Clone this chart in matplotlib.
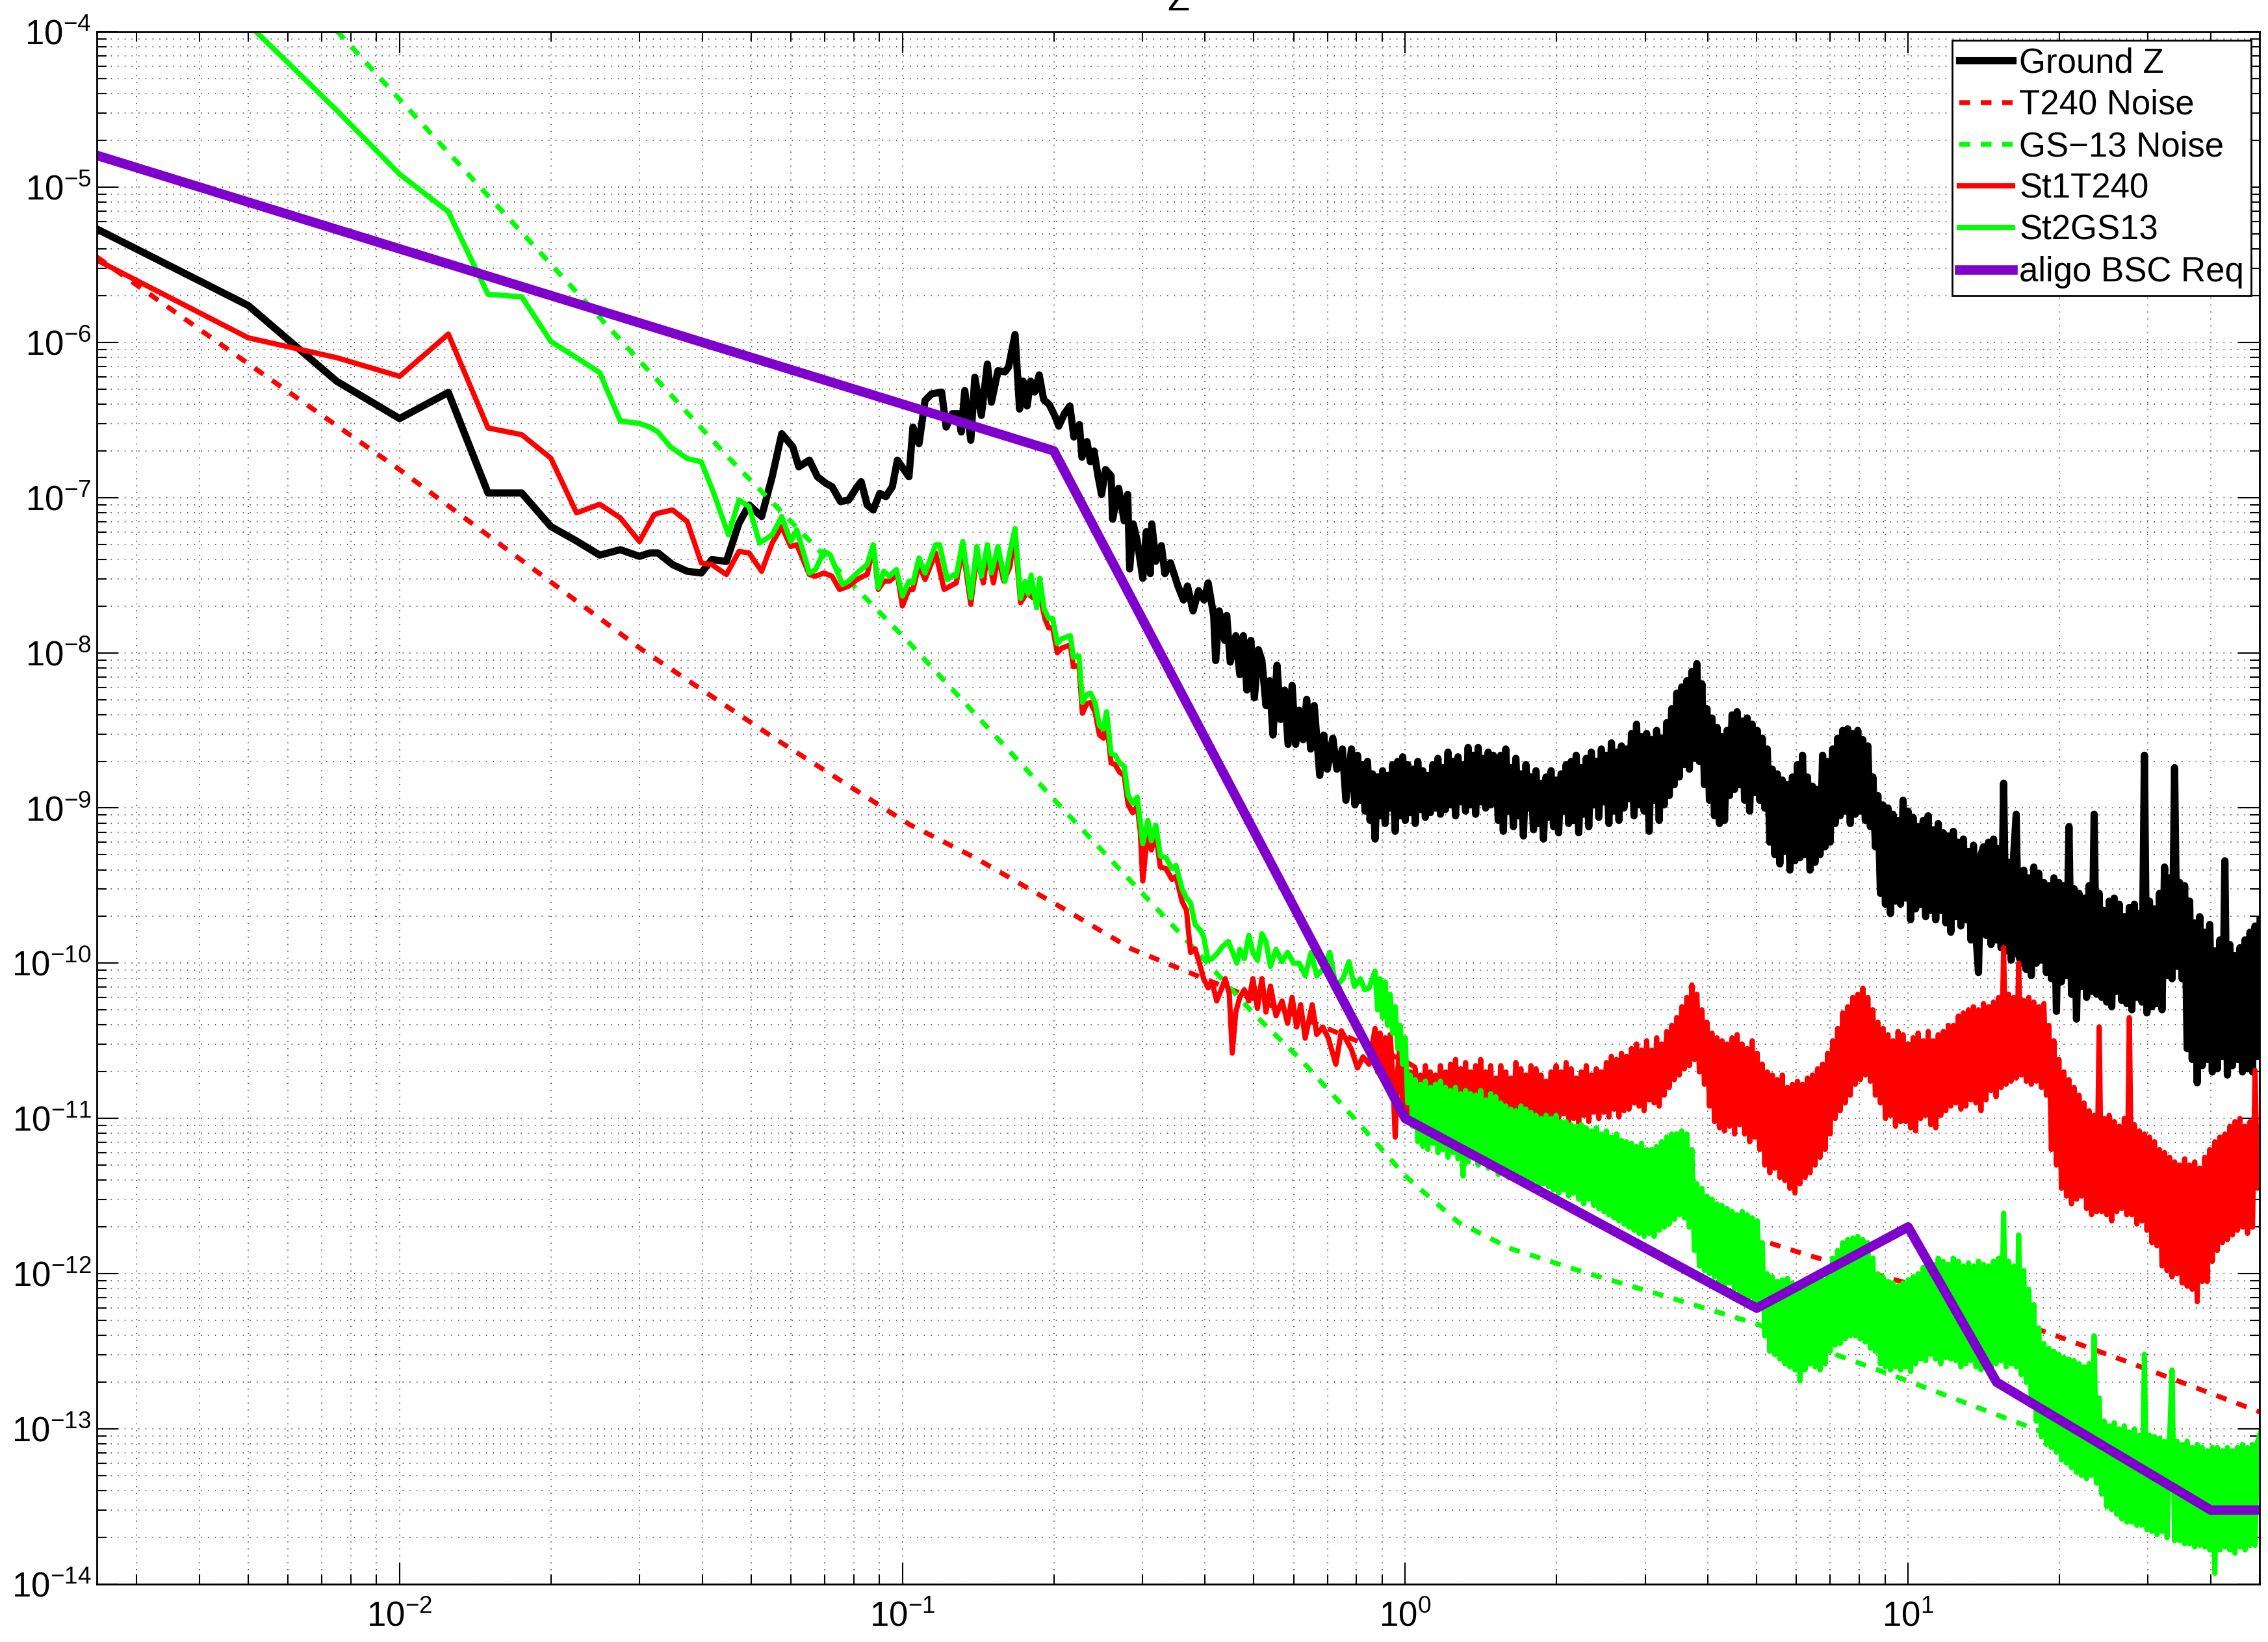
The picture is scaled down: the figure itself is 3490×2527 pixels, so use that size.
import numpy as np
import matplotlib
matplotlib.use("Agg")
import matplotlib.pyplot as plt
from matplotlib.ticker import LogLocator, NullFormatter, LogFormatterSciNotation

plt.rcParams['font.family'] = ['Liberation Sans', 'DejaVu Sans']
plt.rcParams['mathtext.fontset'] = 'custom'
plt.rcParams['mathtext.rm'] = 'Liberation Sans'
plt.rcParams['mathtext.it'] = 'Liberation Sans:italic'
plt.rcParams['mathtext.bf'] = 'Liberation Sans:bold'

# ---------------- data (log10 frequency [Hz], log10 value) ----------------
labels = ["Ground Z", "T240 Noise", "GS\u221213 Noise", "St1T240", "St2GS13", "aligo BSC Req"]

black_lo_logf = [-2.602, -2.301, -2.125, -2.0, -1.903, -1.824, -1.757, -1.699, -1.648, -1.602, -1.561, -1.523,
    -1.5025, -1.486, -1.457, -1.428, -1.400, -1.379, -1.350, -1.325, -1.305, -1.280, -1.259, -1.240, -1.218, -1.206,
    -1.185, -1.169, -1.152, -1.140, -1.123, -1.107, -1.090, -1.082, -1.070, -1.058, -1.045, -1.033, -1.020, -1.010,
    -0.987, -0.979, -0.967, -0.955, -0.942, -0.922, -0.913, -0.901, -0.889, -0.883, -0.876, -0.864, -0.856, -0.843,
    -0.831, -0.823, -0.810,
    -0.796, -0.789, -0.776, -0.767, -0.760, -0.752, -0.745, -0.737, -0.728, -0.719, -0.708, -0.696, -0.689, -0.678,
    -0.667, -0.659, -0.648, -0.643, -0.633, -0.626, -0.619, -0.611, -0.604, -0.596, -0.585, -0.582, -0.570, -0.559,
    -0.552, -0.548, -0.541, -0.533, -0.522, -0.515, -0.507, -0.504, -0.496, -0.485, -0.478, -0.467, -0.452, -0.441,
    -0.433, -0.422, -0.411, -0.400, -0.392, -0.381, -0.377, -0.370, -0.359, -0.355, -0.348, -0.337, -0.329, -0.322,
    -0.315, -0.307, -0.300, -0.292, -0.285, -0.277, -0.270, -0.263, -0.255, -0.248, -0.240, -0.233, -0.225, -0.218,
    -0.211, -0.203, -0.196, -0.188, -0.181, -0.170, -0.162, -0.155, -0.144, -0.136, -0.125, -0.118, -0.107]
black_lo_logv = [-5.27, -5.763, -6.251, -6.491, -6.323, -6.971, -6.971, -7.187, -7.28, -7.371, -7.336, -7.379,
    -7.357, -7.357, -7.432, -7.475, -7.486, -7.400, -7.411, -7.165, -7.048, -7.122, -6.866, -6.589, -6.674, -6.802,
    -6.759, -6.866, -6.909, -6.930, -7.026, -7.016, -6.930, -6.898, -7.048, -7.080, -6.973, -6.994, -6.930, -6.759,
    -6.866, -6.546, -6.653, -6.375, -6.332, -6.321, -6.546, -6.460, -6.460, -6.578, -6.311, -6.631, -6.225, -6.471,
    -6.140, -6.386, -6.183,
    -6.19, -6.16, -5.95, -6.43, -6.25, -6.41, -6.25, -6.32, -6.21, -6.37, -6.40, -6.48, -6.54, -6.46,
    -6.41, -6.61, -6.53, -6.74, -6.64, -6.77, -6.70, -6.86, -6.98, -6.82, -6.86, -7.14, -6.94, -7.15,
    -6.98, -7.46, -7.17, -7.28, -7.52, -7.22, -7.49, -7.17, -7.41, -7.31, -7.49, -7.42, -7.57, -7.66,
    -7.57, -7.73, -7.60, -7.66, -7.55, -7.76, -8.05, -7.73, -7.92, -7.76, -8.06, -7.89, -8.14, -7.89,
    -8.24, -7.92, -8.29, -7.98, -8.05, -8.34, -8.18, -8.53, -8.08, -8.43, -8.24, -8.59, -8.21, -8.59,
    -8.37, -8.56, -8.30, -8.62, -8.34, -8.79, -8.53, -8.75, -8.55, -8.75, -8.62, -8.95, -8.62]
black_hi_logf_range = (-0.10, 1.70)
black_hi_logv = [
    -8.98, -8.66, -8.95, -8.72, -9.02, -8.70, -9.08, -8.78, -9.20, -8.80,
    -9.05, -8.76, -9.10, -8.79, -9.00, -8.72, -9.15, -8.70, -9.05, -8.67,
    -9.08, -8.72, -9.03, -8.75, -9.10, -8.70, -9.01, -8.76, -9.06, -8.79,
    -9.03, -8.72, -9.00, -8.68, -9.04, -8.74, -9.01, -8.64, -8.98, -8.70,
    -9.05, -8.67, -8.96, -8.72, -9.02, -8.61, -8.98, -8.66, -9.04, -8.61,
    -8.96, -8.68, -9.00, -8.64, -8.98, -8.66,
    -8.70, -9.08, -8.66, -9.15, -8.62, -9.02, -8.74, -9.12, -8.68, -9.05,
    -8.78, -9.18, -8.72, -9.00, -8.80, -9.14, -8.76, -9.10, -8.84, -9.20,
    -8.80, -9.06, -8.76, -9.12, -8.82, -9.16, -8.78, -9.02, -8.72, -9.10,
    -8.70, -9.08, -8.66, -9.16, -8.74, -9.04, -8.68, -9.12, -8.64, -8.98,
    -8.70, -9.06, -8.62, -8.96, -8.66, -9.10, -8.58, -9.02, -8.64, -9.08,
    -8.60, -9.00, -8.62, -8.94, -8.52, -9.05, -8.46, -8.98, -8.54, -9.02,
    -8.52, -9.15, -8.56, -8.95, -8.50, -9.08, -8.55, -8.98, -8.45, -8.92,
    -8.36, -8.85, -8.26, -8.80, -8.22, -8.72, -8.18, -8.75, -8.12, -8.68,
    -8.07, -8.70, -8.20, -8.85, -8.36, -8.95, -8.42, -9.05, -8.48, -9.10,
    -8.54, -9.08, -8.50, -8.92, -8.40, -8.88, -8.38, -8.85, -8.44, -8.95,
    -8.42, -9.02, -8.46, -8.90, -8.50, -8.95, -8.55, -9.00, -8.62, -9.22,
    -8.75, -9.30, -8.78, -9.36, -8.82, -9.28, -8.85, -9.40, -8.80, -9.34,
    -8.72, -9.32, -8.66, -9.30, -8.80, -9.40, -8.86, -9.35, -8.88, -9.30,
    -8.66, -9.25, -8.70, -9.22, -8.62, -9.10, -8.55, -9.05, -8.50, -9.02,
    -8.49, -9.10, -8.52, -9.04, -8.50, -9.02, -8.56, -9.08, -8.60, -9.12,
    -8.80, -9.25, -8.92, -9.55, -8.98, -9.62, -9.00, -9.68, -9.04, -9.60,
    -9.08, -9.62, -8.95, -9.58, -9.02, -9.72, -9.06, -9.65, -9.12, -9.62,
    -9.08, -9.70, -9.05, -9.66, -9.14, -9.72, -9.10, -9.66, -9.16, -9.74,
    -9.18, -9.80, -9.15, -9.70, -9.22, -9.76, -9.20, -9.72, -9.28, -9.85,
    -9.24, -9.82, -10.06, -9.30, -9.25, -9.82, -9.22, -9.88, -9.20, -9.85,
    -9.26, -9.90, -8.84, -9.92, -9.35, -9.98, -9.30, -9.04, -9.95, -10.00,
    -9.40, -10.04, -9.45, -10.08, -9.38, -10.00, -9.42, -9.98, -9.48, -10.06,
    -9.50, -10.10, -9.45, -10.31, -9.48, -10.12, -9.50, -10.08, -9.12, -10.20,
    -9.52, -10.36, -9.55, -10.15, -9.58, -10.22, -9.50, -10.18, -9.04, -10.20,
    -9.55, -10.22, -9.66, -10.25, -9.60, -10.28, -9.58, -10.18, -9.62, -10.24,
    -9.70, -10.26, -9.64, -10.30, -9.62, -10.22, -9.68, -10.25, -8.66, -10.32,
    -9.60, -10.28, -9.65, -10.26, -9.55, -10.30, -9.38, -10.08, -9.45, -10.10,
    -8.74, -10.02, -9.48, -10.10, -9.50, -10.55, -9.60, -10.62, -9.74, -10.77,
    -9.70, -10.66, -9.80, -10.62, -9.75, -10.70, -9.92, -10.68, -9.85, -10.60,
    -9.34, -10.72, -9.88, -10.66, -9.95, -10.62, -9.90, -10.70, -9.85, -10.68,
    -9.80, -10.70, -9.76, -10.60, -9.72]

red_lo_logf = [-2.602, -2.301, -2.125, -2.0, -1.903, -1.824, -1.757, -1.699, -1.648, -1.602, -1.561, -1.523,
    -1.494, -1.486, -1.457, -1.428, -1.400, -1.379, -1.350, -1.325, -1.305, -1.280, -1.259, -1.240, -1.222, -1.210,
    -1.185, -1.173, -1.156, -1.140, -1.125, -1.107, -1.090, -1.078, -1.070, -1.058, -1.048, -1.037, -1.026, -1.010,
    -1.000, -0.987, -0.979, -0.967, -0.955, -0.934, -0.917, -0.905, -0.893, -0.880, -0.864, -0.852, -0.839, -0.831,
    -0.819, -0.810, -0.798, -0.786, -0.777, -0.765, -0.753, -0.740, -0.728, -0.716,
    -0.709, -0.701, -0.692, -0.683, -0.675, -0.666, -0.660, -0.649, -0.642, -0.634, -0.626, -0.617, -0.608, -0.600,
    -0.594, -0.585, -0.577, -0.568, -0.559, -0.551, -0.542, -0.533, -0.527, -0.522, -0.512, -0.505, -0.496, -0.487,
    -0.476, -0.464, -0.456, -0.444, -0.435,
    -0.427, -0.418, -0.407, -0.401, -0.392, -0.384, -0.375, -0.366, -0.358, -0.350, -0.344, -0.337, -0.329, -0.320,
    -0.311, -0.303, -0.294, -0.285, -0.277, -0.268, -0.257, -0.245, -0.234, -0.225, -0.216, -0.208, -0.199, -0.185,
    -0.176, -0.164, -0.153, -0.138, -0.127, -0.115, -0.107, -0.095, -0.084, -0.072]
red_lo_logv = [-5.47, -5.971, -6.099, -6.219, -5.947, -6.552, -6.595, -6.747, -7.099, -7.043, -7.131, -7.283,
    -7.112, -7.101, -7.080, -7.155, -7.421, -7.432, -7.496, -7.347, -7.357, -7.475, -7.293, -7.187, -7.315, -7.304,
    -7.496, -7.507, -7.486, -7.507, -7.592, -7.571, -7.528, -7.507, -7.496, -7.315, -7.592, -7.539, -7.539, -7.496,
    -7.699, -7.592, -7.592, -7.432, -7.528, -7.357, -7.592, -7.571, -7.550, -7.325, -7.688, -7.379, -7.550, -7.357,
    -7.550, -7.379, -7.539, -7.443, -7.229, -7.678, -7.614, -7.646, -7.614, -7.785,
    -7.84, -7.84, -8.00, -7.97, -7.96, -7.95, -8.09, -8.08, -8.39, -8.33, -8.32, -8.38, -8.53, -8.55,
    -8.44, -8.71, -8.72, -8.77, -8.79, -8.98, -9.03, -8.99, -9.15, -9.47, -9.14, -9.27, -9.17, -9.38,
    -9.39, -9.46, -9.44, -9.60, -9.66,
    -9.931, -9.907, -10.027, -10.099, -10.159, -10.123, -10.243, -10.171, -10.099, -10.195, -10.579, -10.315,
    -10.219, -10.171, -10.243, -10.099, -10.291, -10.099, -10.315, -10.147, -10.339, -10.243, -10.387, -10.219,
    -10.411, -10.267, -10.483, -10.267, -10.459, -10.411, -10.483, -10.651, -10.435, -10.507, -10.555, -10.675,
    -10.603, -10.651]
red_hi_logf_range = (-0.06, 1.70)
red_hi_logv = [
    -10.42, -10.70, -10.45, -10.72, -10.48, -10.75, -10.46, -10.72, -11.12, -10.70,
    -10.50, -10.95, -10.62, -10.98, -10.70, -11.05, -10.68, -11.02, -10.72, -11.08,
    -10.66, -11.00, -10.70, -11.06, -10.72, -11.02, -10.66, -11.04, -10.70, -11.00,
    -10.65, -10.98, -10.62, -11.02, -10.68, -10.96, -10.64, -11.00, -10.70, -11.03,
    -10.66, -10.97, -10.62, -11.00, -10.70, -10.98, -10.66, -11.02, -10.74, -10.96,
    -10.66, -11.00, -10.70, -10.97, -10.74, -11.02, -10.64, -10.98, -10.68, -11.03,
    -10.72, -10.95, -10.66, -10.99, -10.68, -11.04, -10.72, -11.00, -10.76, -10.98,
    -10.70, -11.03, -10.66, -11.00, -10.70, -10.97, -10.64, -11.02, -10.68, -11.00,
    -10.74, -11.04, -10.70, -10.98, -10.66, -11.02, -10.72, -10.96, -10.68, -11.00,
    -10.70, -10.96, -10.64, -10.99, -10.60, -10.94, -10.62, -10.99, -10.58, -10.95,
    -10.60, -10.94, -10.55, -10.90, -10.52, -10.92, -10.56, -10.95, -10.50, -10.88,
    -10.56, -10.90, -10.48, -10.92, -10.52, -10.85, -10.44, -10.80, -10.40, -10.75,
    -10.35, -10.72, -10.28, -10.68, -10.22, -10.66, -10.14, -10.62, -10.20, -10.70,
    -10.30, -10.78, -10.38, -10.92, -10.45, -11.02, -10.48, -11.06, -10.50, -11.08,
    -10.52, -11.05, -10.48, -11.10, -10.46, -11.04, -10.52, -11.10, -10.55, -11.15,
    -10.50, -11.12, -10.58, -11.20, -10.65, -11.30, -10.70, -11.35, -10.72, -11.32,
    -10.75, -11.38, -10.72, -11.40, -10.80, -11.45, -10.78, -11.48, -10.76, -11.42,
    -10.78, -11.38, -10.74, -11.35, -10.72, -11.30, -10.68, -11.25, -10.65, -11.20,
    -10.58, -11.10, -10.50, -11.00, -10.42, -10.95, -10.32, -10.90, -10.28, -10.85,
    -10.22, -10.78, -10.20, -10.75, -10.16, -10.72, -10.22, -10.76, -10.30, -10.85,
    -10.38, -10.90, -10.42, -11.00, -10.46, -10.98, -10.50, -11.05, -10.44, -11.02,
    -10.46, -11.02, -10.52, -11.06, -10.48, -11.08, -10.45, -11.00, -10.50, -10.98,
    -10.44, -11.04, -10.50, -11.06, -10.46, -10.98, -10.44, -10.95, -10.40, -10.92,
    -10.40, -10.90, -10.34, -10.94, -10.32, -10.92, -10.30, -10.88, -10.28, -10.90,
    -10.30, -10.95, -10.26, -10.88, -10.28, -10.82, -10.25, -10.86, -10.22, -10.80,
    -9.90, -10.78, -10.20, -10.76, -10.22, -10.74, -10.00, -10.72, -10.24, -10.76,
    -10.22, -10.78, -10.25, -10.76, -10.28, -10.80, -10.26, -10.85, -10.40, -11.20,
    -10.50, -11.30, -10.62, -11.45, -10.70, -11.50, -10.75, -11.55, -10.80, -11.52,
    -10.85, -11.50, -10.90, -11.58, -10.95, -11.62, -10.98, -11.60, -10.41, -11.60,
    -11.00, -11.62, -10.98, -11.66, -11.02, -11.60, -11.05, -11.58, -11.00, -11.62,
    -10.35, -11.62, -11.04, -11.68, -11.08, -11.66, -11.10, -11.72, -11.12, -11.80,
    -11.15, -11.82, -11.20, -11.95, -11.22, -11.98, -11.25, -12.02, -11.28, -12.00,
    -11.30, -12.06, -11.26, -12.08, -11.30, -12.10, -11.28, -12.18, -11.32, -12.05,
    -11.25, -12.05, -11.20, -11.92, -11.15, -11.85, -11.12, -11.80, -11.10, -11.78,
    -11.05, -11.75, -11.02, -11.72, -11.00, -11.70, -11.05, -11.74, -11.02, -11.70,
    -10.69, -11.45, -11.40]

green_lo_logf = [-2.602, -2.301, -2.125, -2.0, -1.903, -1.824, -1.757, -1.699, -1.648, -1.602, -1.561, -1.523,
    -1.5025, -1.486, -1.461, -1.428, -1.400, -1.375, -1.346, -1.325, -1.305, -1.284, -1.259, -1.240, -1.222, -1.210,
    -1.185, -1.173, -1.156, -1.144, -1.119, -1.107, -1.090, -1.078, -1.070, -1.058, -1.048, -1.037, -1.026, -1.012,
    -1.000, -0.987, -0.979, -0.967, -0.955, -0.934, -0.926, -0.911, -0.897, -0.893, -0.880, -0.864, -0.852, -0.843,
    -0.831, -0.823, -0.810,
    -0.796, -0.787, -0.776, -0.765, -0.756, -0.750, -0.744, -0.733, -0.727, -0.718, -0.709, -0.701, -0.692, -0.683,
    -0.675, -0.666, -0.660, -0.649, -0.642, -0.634, -0.626, -0.617, -0.608, -0.600, -0.594, -0.585, -0.577, -0.568,
    -0.559, -0.551, -0.542, -0.533, -0.527, -0.522, -0.512, -0.505, -0.496, -0.487, -0.476, -0.464, -0.456, -0.444,
    -0.435, -0.427, -0.418, -0.407, -0.401, -0.392, -0.384, -0.372, -0.363, -0.352, -0.343, -0.335, -0.329, -0.320,
    -0.311, -0.303, -0.294, -0.285, -0.277, -0.268, -0.257, -0.245, -0.234, -0.222, -0.211, -0.199, -0.187, -0.176,
    -0.164, -0.150, -0.138, -0.124, -0.112, -0.101, -0.089, -0.081, -0.072]
green_lo_logv = [-3.30, -3.95, -4.505, -4.917, -5.159, -5.691, -5.707, -5.995, -6.099, -6.195, -6.507, -6.523,
    -6.546, -6.578, -6.674, -6.749, -6.770, -6.973, -7.240, -7.016, -7.058, -7.293, -7.240, -7.122, -7.283, -7.208,
    -7.486, -7.464, -7.347, -7.368, -7.560, -7.539, -7.486, -7.453, -7.432, -7.304, -7.582, -7.475, -7.507, -7.464,
    -7.635, -7.539, -7.550, -7.389, -7.486, -7.304, -7.304, -7.528, -7.496, -7.507, -7.283, -7.646, -7.315, -7.507,
    -7.304, -7.486, -7.315,
    -7.54, -7.36, -7.20, -7.65, -7.54, -7.62, -7.50, -7.71, -7.52, -7.72, -7.78, -7.78, -7.94, -7.91,
    -7.90, -7.89, -8.03, -8.02, -8.32, -8.27, -8.26, -8.32, -8.47, -8.49, -8.38, -8.65, -8.66, -8.71,
    -8.73, -8.92, -8.97, -8.93, -9.09, -9.23, -9.08, -9.21, -9.11, -9.31, -9.32, -9.39, -9.37, -9.52,
    -9.58, -9.61, -9.75, -9.79, -9.83, -9.98, -9.97, -9.93, -9.89, -9.86, -9.93, -10.00, -9.91, -9.97,
    -9.82, -9.93, -9.98, -9.81, -9.86, -10.02, -9.91, -9.99, -9.93, -10.00, -10.00, -10.08, -9.93, -10.08,
    -10.04, -9.93, -10.15, -10.10, -9.99, -10.15, -10.10, -10.17, -10.16]
green_hi_logf_range = (-0.06, 1.70)
green_hi_logv = [
    -10.05, -10.30, -10.10, -10.35, -10.12, -10.40, -10.20, -10.45, -10.28, -10.55,
    -10.40, -10.65, -10.48, -10.90, -10.72, -11.05, -10.75, -11.15, -10.78, -11.18,
    -10.76, -11.20, -10.80, -11.16, -10.78, -11.22, -10.76, -11.20, -10.80, -11.25,
    -10.82, -11.22, -10.80, -11.26, -10.84, -11.37, -10.82, -11.28, -10.84, -11.24,
    -10.85, -11.30, -10.82, -11.26, -10.88, -11.32, -10.84, -11.30, -10.86, -11.36,
    -10.90, -11.34, -10.92, -11.38, -10.94, -11.36, -10.95, -11.40, -10.92, -11.38,
    -10.94, -11.42, -10.96, -11.40, -10.98, -11.45, -11.00, -11.42, -10.98, -11.44,
    -11.00, -11.46, -10.98, -11.48, -11.02, -11.46, -11.02, -11.50, -11.04, -11.48,
    -11.05, -11.52, -11.04, -11.55, -11.06, -11.52, -11.08, -11.56, -11.06, -11.58,
    -11.10, -11.60, -11.08, -11.62, -11.12, -11.64, -11.10, -11.66, -11.14, -11.68,
    -11.15, -11.70, -11.16, -11.72, -11.18, -11.74, -11.16, -11.76, -11.20, -11.74,
    -11.20, -11.76, -11.18, -11.72, -11.15, -11.70, -11.12, -11.68, -11.10, -11.65,
    -11.10, -11.62, -11.08, -11.64, -11.10, -11.70, -11.20, -11.85, -11.42, -11.95,
    -11.45, -11.98, -11.50, -12.00, -11.52, -12.02, -11.55, -12.05, -11.56, -12.08,
    -11.58, -12.06, -11.60, -12.10, -11.62, -12.12, -11.60, -12.14, -11.62, -12.15,
    -11.64, -12.18, -11.66, -12.20, -11.80, -12.40, -12.00, -12.50, -12.02, -12.52,
    -12.05, -12.55, -12.04, -12.58, -12.03, -12.60, -12.06, -12.62, -12.08, -12.69,
    -12.10, -12.62, -12.08, -12.58, -12.06, -12.60, -12.05, -12.62, -12.04, -12.58,
    -12.02, -12.50, -11.90, -12.46, -11.85, -12.45, -11.80, -12.42, -11.78, -12.40,
    -11.77, -12.40, -11.76, -12.42, -11.78, -12.44, -11.80, -12.48, -11.90, -12.50,
    -12.00, -12.58, -12.02, -12.60, -12.05, -12.62, -12.06, -12.60, -12.08, -12.62,
    -12.06, -12.60, -12.04, -12.63, -12.02, -12.58, -12.00, -12.55, -11.96, -12.56,
    -11.92, -12.52, -11.94, -12.55, -11.90, -12.58, -11.92, -12.54, -11.94, -12.55,
    -11.90, -12.56, -11.92, -12.60, -11.95, -12.58, -11.93, -12.56, -11.95, -12.60,
    -11.92, -12.62, -11.94, -12.58, -11.95, -12.60, -11.92, -12.58, -11.90, -12.56,
    -11.61, -12.60, -11.92, -12.58, -11.95, -12.60, -11.75, -12.65, -11.98, -12.70,
    -12.10, -12.85, -12.20, -12.95, -12.35, -13.05, -12.45, -13.10, -12.48, -13.12,
    -12.50, -13.15, -12.52, -13.20, -12.54, -13.22, -12.55, -13.25, -12.56, -13.28,
    -12.58, -13.30, -12.60, -13.32, -12.58, -13.30, -12.40, -13.35, -12.80, -13.42,
    -12.95, -13.50, -12.98, -13.52, -12.96, -13.55, -13.00, -13.58, -12.98, -13.60,
    -13.02, -13.60, -13.00, -13.62, -13.04, -13.62, -12.52, -13.65, -13.04, -13.66,
    -13.05, -13.68, -13.06, -13.66, -13.08, -13.70, -13.06, -12.62, -13.72, -13.08,
    -13.72, -13.10, -13.74, -13.08, -13.74, -13.12, -13.76, -13.10, -13.75, -13.12,
    -13.76, -13.14, -13.78, -13.12, -13.93, -13.12, -13.78, -13.14, -13.76, -13.12,
    -13.78, -13.14, -13.80, -13.12, -13.76, -13.10, -13.78, -13.12, -13.75, -13.10,
    -13.75, -13.08, -13.03]

t240_logf = [-2.602, -2.30, -2.0, -1.518, -1.25, -0.986, -0.857, -0.683, -0.545, -0.418, -0.20, 0.0, 0.093,
             0.30, 0.578, 0.80, 1.008, 1.286, 1.43, 1.699]
t240_logv = [-5.45, -6.14, -6.82, -7.98, -8.56, -9.106, -9.318, -9.642, -9.907, -10.075, -10.36, -10.63, -10.82,
             -11.23, -11.65, -11.88, -12.07, -12.39, -12.56, -12.89]

gs13_logf = [-2.602, -2.123, -1.806, -1.351, -0.986, -0.689, -0.437, -0.300, -0.208, -0.104, 0.0, 0.106, 0.211,
             0.355, 0.512, 0.696, 0.864, 0.999, 1.259, 1.699]
gs13_logv = [-2.31, -4.0, -5.12, -6.725, -7.937, -8.978, -9.845, -10.33, -10.62, -10.99, -11.37, -11.67, -11.84,
             -11.99, -12.14, -12.32, -12.53, -12.69, -13.01, -13.52]

req_f = [0.0025, 0.2, 1.0, 5.0, 10.0, 15.0, 40.0, 50.0]
req_v = [1.6e-5, 2e-7, 1e-11, 6e-13, 2e-12, 2e-13, 3e-14, 3e-14]

xlim = (0.0025, 50)
ylim = (1e-14, 1e-4)


def series(lo_f, lo_v, hi_range, hi_v):
    n = min(len(lo_f), len(lo_v))
    lf = np.asarray(lo_f[:n], float)
    lv = np.asarray(lo_v[:n], float)
    hf = np.linspace(hi_range[0], hi_range[1], len(hi_v))
    f = 10 ** np.concatenate([lf, hf])
    v = 10 ** np.concatenate([lv, np.asarray(hi_v, float)])
    return f, v


bf, bv = series(black_lo_logf, black_lo_logv, black_hi_logf_range, black_hi_logv)
rf, rv = series(red_lo_logf, red_lo_logv, red_hi_logf_range, red_hi_logv)
gf, gv = series(green_lo_logf, green_lo_logv, green_hi_logf_range, green_hi_logv)
tf, tv = 10 ** np.asarray(t240_logf), 10 ** np.asarray(t240_logv)
sf, sv = 10 ** np.asarray(gs13_logf), 10 ** np.asarray(gs13_logv)

# ---------------- figure ----------------
W, H = 3491, 2527
fig = plt.figure(figsize=(W / 100, H / 100), dpi=100)
ax = fig.add_axes([149 / W, (H - 2438) / H, (3477 - 149) / W, (2438 - 49) / H])

dash = (0, (2.2, 2.2))
ax.plot(bf, bv, color='#000000', lw=8.0, label=labels[0])
ax.plot(tf, tv, color='#FF0000', lw=5.4, ls=dash, label=labels[1])
ax.plot(sf, sv, color='#00FF00', lw=5.4, ls=dash, label=labels[2])
ax.plot(rf, rv, color='#FF0000', lw=5.8, label=labels[3])
ax.plot(gf, gv, color='#00FF00', lw=5.8, label=labels[4])
ax.plot(req_f, req_v, color='#7F00CC', lw=10.5, label=labels[5])

ax.set_xscale('log')
ax.set_yscale('log')
ax.set_xlim(*xlim)
ax.set_ylim(*ylim)

ax.xaxis.set_major_locator(LogLocator(base=10, numticks=20))
ax.xaxis.set_minor_locator(LogLocator(base=10, subs=np.arange(2, 10), numticks=20))
ax.yaxis.set_major_locator(LogLocator(base=10, numticks=20))
ax.yaxis.set_minor_locator(LogLocator(base=10, subs=np.arange(2, 10), numticks=20))
ax.xaxis.set_major_formatter(LogFormatterSciNotation())
ax.yaxis.set_major_formatter(LogFormatterSciNotation())
ax.xaxis.set_minor_formatter(NullFormatter())
ax.yaxis.set_minor_formatter(NullFormatter())

ax.tick_params(which='both', direction='in', top=True, right=True, width=1.5, labelsize=38)
ax.tick_params(which='major', length=23.5)
ax.tick_params(which='minor', length=10.5)
ax.tick_params(axis='x', which='major', pad=18)
ax.tick_params(axis='y', which='major', pad=6)

ax.set_axisbelow(True)
ax.grid(True, which='both', ls=(0, (1, 6)), lw=1.1, color='0.2')
for s in ax.spines.values():
    s.set_linewidth(2.0)

ax.set_title('Z', fontsize=40, pad=24)

leg = ax.legend(loc='upper right', fontsize=38, handlelength=1.56, handletextpad=0.19,
                labelspacing=0.27, borderpad=0.2, borderaxespad=0.25, frameon=True,
                fancybox=False, edgecolor='k', framealpha=1)
leg.get_frame().set_linewidth(2.0)

fig.savefig('out.png', dpi=100)
